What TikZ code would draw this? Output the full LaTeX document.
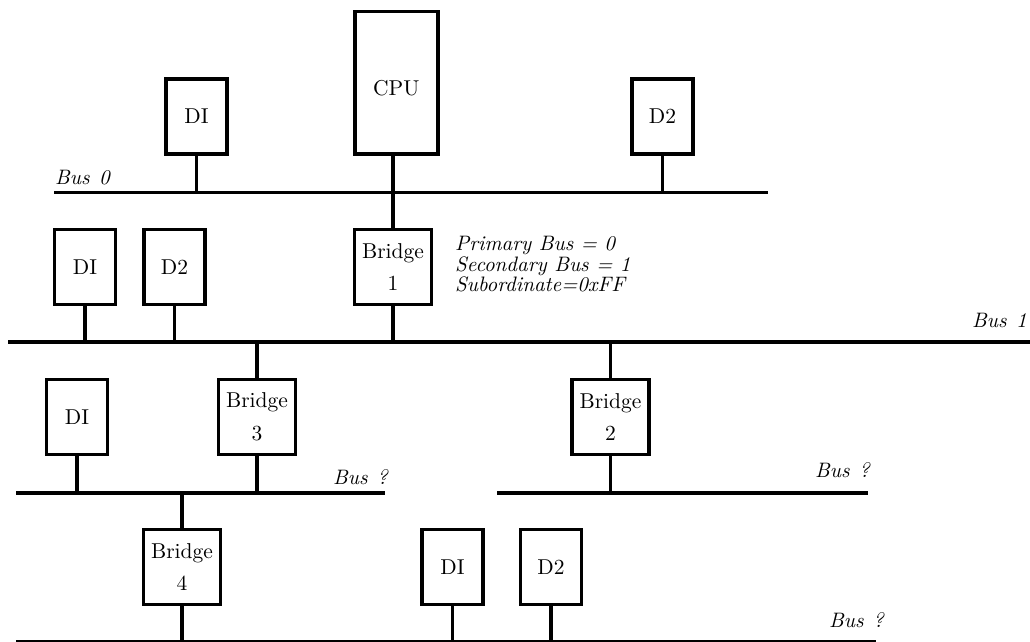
\documentclass[tikz,border=0pt]{standalone}
\usepackage{fontspec}
% the 10pt design of Latin Modern, scaled up, for its heavier strokes
\setmainfont{lmroman10}[Extension=.otf, UprightFont=*-regular, ItalicFont=*-italic]
\newcommand\devfont{\fontsize{21.5}{32.7}\selectfont}
\newcommand\labfont{\fontsize{20.9}{20.5}\selectfont\itshape}
\begin{document}
\begin{tikzpicture}[x=1pt,y=-1pt,
  unit/.style={draw,line width=3.6pt,inner sep=0pt,align=center,font=\devfont,minimum height=75pt},
  dev/.style={unit,minimum width=61pt},
  bridgebox/.style={unit,minimum width=77pt},
  bus/.style={line width=3.6pt},
  wire/.style={line width=3.6pt},
  tag/.style={font=\labfont,inner sep=0pt}]
\useasboundingbox (0,0) rectangle (1030,642);

% bus end points
\coordinate (b0w) at (54,192.5);   \coordinate (b0e) at (768,192.5);
\coordinate (b1w) at (8,342);      \coordinate (b1e) at (1034,342);
\coordinate (bLw) at (16,492.7);   \coordinate (bLe) at (385,492.7);
\coordinate (bRw) at (497,492.7);  \coordinate (bRe) at (868,492.7);
\coordinate (bBw) at (16,642);     \coordinate (bBe) at (876,642);

% buses
\draw[bus] (b0w) -- (b0e);
\draw[bus] (b1w) -- (b1e);
\draw[bus] (bLw) -- (bLe);
\draw[bus] (bRw) -- (bRe);
\draw[bus] (bBw) -- (bBe);

% bus 0 devices
\node[dev] (d0a) at (196.5,116.5) {DI};
\node[unit,minimum width=83pt,text height=83.7pt,text depth=59pt] (cpu) at (396.3,82.7) {CPU};
\node[dev] (d0b) at (662.5,116.5) {D2};

% bus 1 devices
\node[dev] (d1a) at (85,267) {DI};
\node[dev] (d1b) at (174.5,267) {D2};
\node[bridgebox] (br1) at (393,267) {Bridge\\1};

% lower level devices
\node[dev] (d2a) at (77,417) {DI};
\node[bridgebox] (br3) at (257,417) {Bridge\\3};
\node[bridgebox] (br2) at (610.5,417) {Bridge\\2};
\node[bridgebox] (br4) at (182,567) {Bridge\\4};
\node[dev] (d3a) at (452.5,567) {DI};
\node[dev] (d3b) at (551,567) {D2};

% attachments
\draw[wire] (d0a.south) -- (d0a.south |- b0w);
\draw[wire] (d0b.south) -- (d0b.south |- b0w);
\draw[wire] (br1.north) -- (br1.north |- cpu.south);
\draw[wire] (d1a.south) -- (d1a.south |- b1w);
\draw[wire] (d1b.south) -- (d1b.south |- b1w);
\draw[wire] (br1.south) -- (br1.south |- b1w);
\draw[wire] (br3.north) -- (br3.north |- b1w);
\draw[wire] (br3.south) -- (br3.south |- bLw);
\draw[wire] (br2.north) -- (br2.north |- b1w);
\draw[wire] (br2.south) -- (br2.south |- bRw);
\draw[wire] (d2a.south) -- (d2a.south |- bLw);
\draw[wire] (br4.north) -- (br4.north |- bLw);
\draw[wire] (br4.south) -- (br4.south |- bBw);
\draw[wire] (d3a.south) -- (d3a.south |- bBw);
\draw[wire] (d3b.south) -- (d3b.south |- bBw);

% labels
\node[tag,anchor=base west] (lbus0) at (55,184.3) {Bus\hspace{.45em}0};
\node[tag,anchor=base east] (lbus1) at (1027,327) {Bus\hspace{.45em}1};
\node[tag,anchor=base west] (lbusl) at (333,484) {Bus\hspace{.45em}?};
\node[tag,anchor=base east] (lbusr) at (870,477) {Bus\hspace{.45em}?};
\node[tag,anchor=base east] (lbusb) at (884,627) {Bus\hspace{.45em}?};
\node[tag,anchor=north west,align=left] (cfg) at (455,236.2)
  {Primary Bus = 0\\Secondary Bus = 1\\Subordinate=0xFF};
\end{tikzpicture}
\end{document}
